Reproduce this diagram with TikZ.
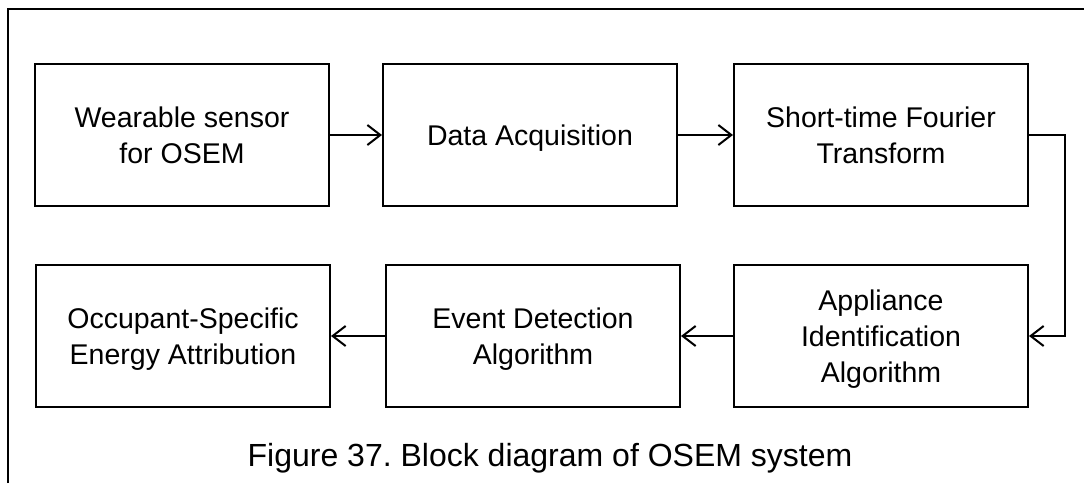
\documentclass[tikz,border=0pt]{standalone}
\usepackage{fontspec}
\setmainfont{Liberation Sans}
\usetikzlibrary{arrows.meta}
\newcommand\ls{\rule[-6pt]{0pt}{32.5pt}}
\frenchspacing
\begin{document}
\begin{tikzpicture}[x=1pt,y=-1pt,
  blockbox/.style={draw=black,line width=2pt,minimum width=294pt,minimum height=142pt,align=center,inner sep=0pt,
    font=\fontsize{28.5}{36}\selectfont},
  conn/.style={line width=2pt,-{Straight Barb[length=13pt,width=20pt,line width=2pt]}},
  frameline/.style={line width=2pt},
  captext/.style={anchor=base,inner sep=0pt,font=\fontsize{32}{36}\selectfont}]
\useasboundingbox (0,0) rectangle (1084,483);
\draw[frameline] (8,483) -- (8,9) -- (1084,9);
\node[blockbox] (b1) at (182,135) {\ls Wearable sensor\\\ls for OSEM};
\node[blockbox] (b2) at (530,135) {\ls Data Acquisition};
\node[blockbox] (b3) at (881,135) {\ls Short-time Fourier\\\ls Transform};
\node[blockbox] (b6) at (881,336) {\ls Appliance\\\ls Identification\\\ls Algorithm};
\node[blockbox] (b5) at (533,336) {\ls Event Detection\\\ls Algorithm};
\node[blockbox] (b4) at (183,336) {\ls Occupant-Specific\\\ls Energy Attribution};
\coordinate (turn) at (1065,135);
\draw[conn] (b1) -- (b2);
\draw[conn] (b2) -- (b3);
\draw[conn] (b3.east) -- (turn) |- (b6.east);
\draw[conn] (b6) -- (b5);
\draw[conn] (b5) -- (b4);
\node[captext] (cap) at (550,466) {Figure 37. Block diagram of OSEM system};
\end{tikzpicture}
\end{document}
